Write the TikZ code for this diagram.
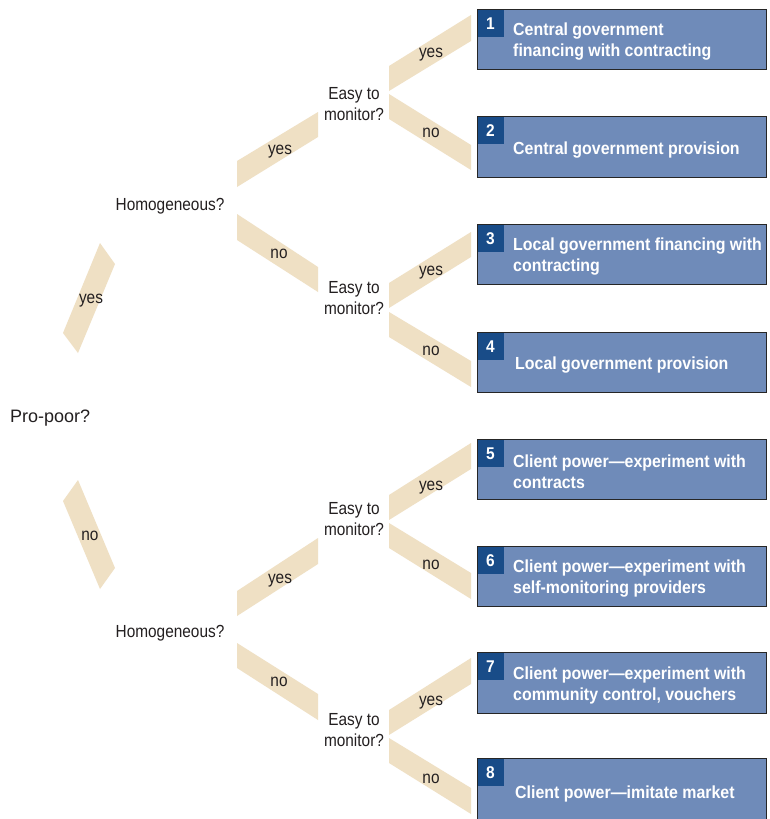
\documentclass[tikz,border=0pt]{standalone}
\usepackage{fontspec}
\setmainfont{Liberation Sans}
\newfontfamily\condfont[FakeStretch=0.88]{Liberation Sans}
\newfontfamily\boldcond[FakeStretch=0.91]{Liberation Sans Bold}
\definecolor{band}{RGB}{239,224,196}
\definecolor{boxfill}{RGB}{111,139,185}
\definecolor{numfill}{RGB}{25,76,136}
\definecolor{ink}{RGB}{35,31,32}
\begin{document}
\begin{tikzpicture}[x=1pt,y=-1pt,
  q/.style={font=\condfont\fontsize{17.5}{21}\selectfont, text=ink, align=center, inner sep=0, yshift=-2pt},
  lbl/.style={font=\condfont\fontsize{17.5}{21}\selectfont, text=ink, inner sep=0, yshift=-3pt},
  bandfill/.style={fill=band, draw=none},
  outbox/.style={draw=black!85, line width=0.8pt},
  numbox/.style={fill=numfill},
  numtxt/.style={font=\boldcond\fontsize{17}{20}\selectfont, text=white, inner sep=0, yshift=-1.5pt},
  boxtxt/.style={font=\boldcond\fontsize{17.5}{21}\selectfont, text=white, align=left, anchor=west, inner sep=0, yshift=-2.5pt}
]
\clip (0,0) rectangle (769,819);
\fill[white] (0,0) rectangle (769,819);

% ---------- bands (branches) ----------
% level 1
\fill[bandfill] (100,243) -- (115,264) -- (78,353) -- (63,333) -- cycle;
\fill[bandfill] (78,480) -- (63,501) -- (100,589) -- (115,568) -- cycle;
% level 2
\fill[bandfill] (237,161) -- (318,112) -- (318,137) -- (237,187) -- cycle;
\fill[bandfill] (237,214) -- (318,267) -- (318,292) -- (237,240) -- cycle;
\fill[bandfill] (237,591) -- (318,538) -- (318,564) -- (237,616) -- cycle;
\fill[bandfill] (237,643) -- (318,694) -- (318,720) -- (237,668) -- cycle;
% level 3
\fill[bandfill] (389,66) -- (471,15) -- (471,41) -- (389,91) -- cycle;
\fill[bandfill] (389,94) -- (471,145) -- (471,170) -- (389,119) -- cycle;
\fill[bandfill] (389,283) -- (471,232) -- (471,257) -- (389,308) -- cycle;
\fill[bandfill] (389,312) -- (471,361) -- (471,387) -- (389,337) -- cycle;
\fill[bandfill] (389,495) -- (471,443) -- (471,469) -- (389,520) -- cycle;
\fill[bandfill] (389,523) -- (471,573) -- (471,599) -- (389,548) -- cycle;
\fill[bandfill] (389,710) -- (471,658) -- (471,684) -- (389,735) -- cycle;
\fill[bandfill] (389,738) -- (471,788) -- (471,814) -- (389,763) -- cycle;

% ---------- band labels ----------
\node[lbl] (l1y) at (91,298) {yes};
\node[lbl] (l1n) at (90,533) {no};
\node[lbl] (h1y) at (280,149) {yes};
\node[lbl] (h1n) at (279,251) {no};
\node[lbl] (h2y) at (280,578) {yes};
\node[lbl] (h2n) at (279,679) {no};
\node[lbl] (e1y) at (431,52) {yes};
\node[lbl] (e1n) at (431,130) {no};
\node[lbl] (e2y) at (431,270) {yes};
\node[lbl] (e2n) at (431,348) {no};
\node[lbl] (e3y) at (431,485) {yes};
\node[lbl] (e3n) at (431,562) {no};
\node[lbl] (e4y) at (431,700) {yes};
\node[lbl] (e4n) at (431,776) {no};

% ---------- questions ----------
\node[font=\fontsize{18}{21}\selectfont, text=ink, inner sep=0, anchor=west, yshift=-3pt] (pp) at (10,415) {Pro-poor?};
\node[q] (hom1) at (170,204) {Homogeneous?};
\node[q] (hom2) at (170,631) {Homogeneous?};
\node[q] (em1) at (354,102.5) {Easy to\\monitor?};
\node[q] (em2) at (354,296) {Easy to\\monitor?};
\node[q] (em3) at (354,517) {Easy to\\monitor?};
\node[q] (em4) at (354,728) {Easy to\\monitor?};

% ---------- outcome boxes ----------
\foreach \n/\t/\b in {1/9/69, 2/116/177, 3/224/284, 4/332/392, 5/439/499, 6/546/606, 7/652/713, 8/758/823}{
  \fill[boxfill] (477,\t) rectangle (766,\b);
  \fill[numbox] (477,\t) rectangle (504,\t+28);
  \node[numtxt] (num\n) at (490.5,\t+13.5) {\n};
  \draw[outbox] (477,\t) rectangle (766,\b);
}
\node[boxtxt] (b1) at (513,39.5) {Central government\\financing with contracting};
\node[boxtxt] (b2) at (513,147.5) {Central government provision};
\node[boxtxt] (b3) at (513,254.5) {Local government financing with\\contracting};
\node[boxtxt] (b4) at (515,362.5) {Local government provision};
\node[boxtxt] (b5) at (513,469.5) {Client power—experiment with\\contracts};
\node[boxtxt] (b6) at (513,576.5) {Client power—experiment with\\self-monitoring providers};
\node[boxtxt] (b7) at (513,682.5) {Client power—experiment with\\community control, vouchers};
\node[boxtxt] (b8) at (515,791.5) {Client power—imitate market};
\end{tikzpicture}
\end{document}
